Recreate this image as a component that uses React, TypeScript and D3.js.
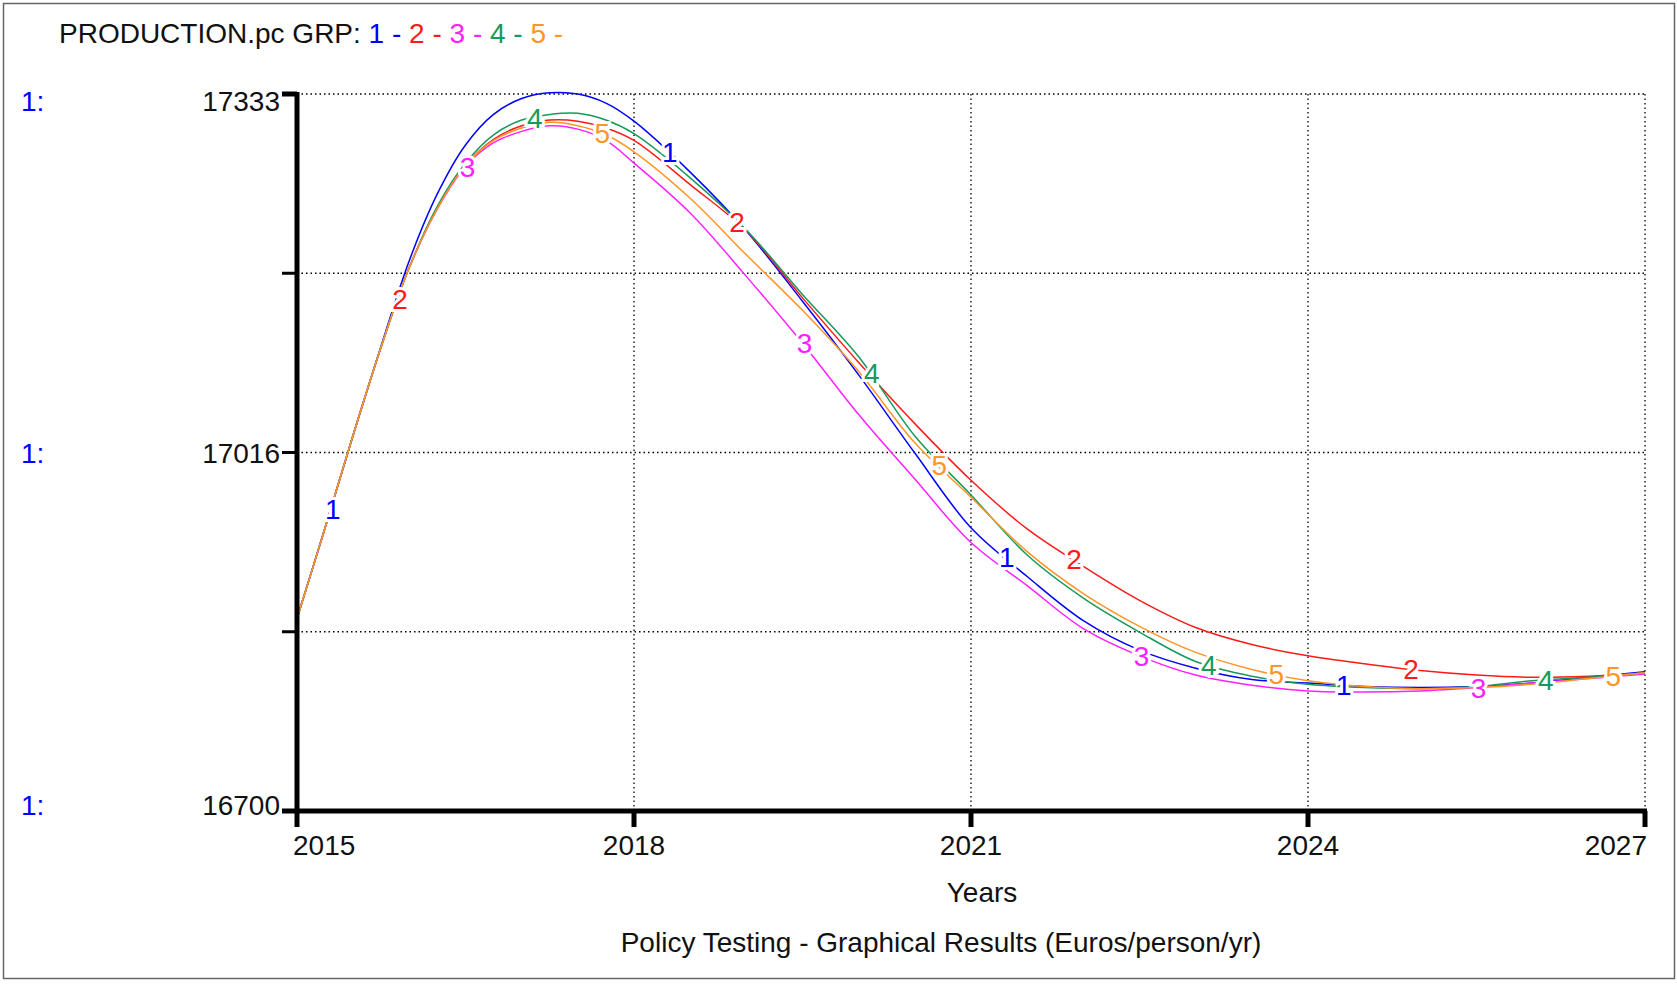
import React from 'react';
import * as d3 from 'd3';

// quarter years up to 2018, half years after
const years = [2015, 2015.25, 2015.5, 2015.75, 2016, 2016.25, 2016.5, 2016.75, 2017, 2017.25, 2017.5, 2017.75, 2018, 2018.5, 2019, 2019.5, 2020, 2020.5, 2021, 2021.5, 2022, 2022.5, 2023, 2023.5, 2024, 2024.5, 2025, 2025.5, 2026, 2026.5, 2027];

const run1 = [16870, 16950, 17032, 17111, 17186, 17245, 17288, 17315, 17329, 17334, 17333, 17325, 17309, 17264, 17212, 17150, 17085, 17016, 16950, 16907, 16868, 16842, 16826, 16816, 16813, 16810, 16809, 16810, 16813, 16818, 16823];
const run2 = [16870, 16950, 17032, 17110, 17180, 17232, 17270, 17293, 17305, 17310, 17309, 17303, 17292, 17253, 17212, 17153, 17096, 17042, 16992, 16949, 16916, 16886, 16862, 16847, 16837, 16830, 16824, 16820, 16818, 16819, 16822];
const run3 = [16870, 16950, 17032, 17110, 17180, 17232, 17269, 17290, 17300, 17305, 17302, 17292, 17272, 17228, 17172, 17113, 17050, 16993, 16937, 16899, 16861, 16837, 16820, 16811, 16806, 16805, 16806, 16809, 16813, 16817, 16821];
const run4 = [16870, 16950, 17032, 17110, 17180, 17234, 17272, 17297, 17310, 17315, 17316, 17310, 17298, 17259, 17213, 17156, 17101, 17031, 16979, 16926, 16888, 16858, 16832, 16819, 16812, 16809, 16808, 16810, 16815, 16818, 16822];
const run5 = [16870, 16950, 17032, 17110, 17180, 17232, 17270, 17292, 17303, 17308, 17305, 17297, 17282, 17241, 17191, 17142, 17088, 17025, 16977, 16929, 16892, 16863, 16840, 16825, 16815, 16810, 16808, 16809, 16812, 16817, 16822];

const runNames = ['1', '2', '3', '4', '5'];
const runColors = ['#0000ff', '#ff1a1a', '#ff20ff', '#169a5a', '#ff9526'];
const runs = [run1, run2, run3, run4, run5];
const labelYears = [
  [2015.3, 2018.3, 2021.3, 2024.3],
  [2015.9, 2018.9, 2021.9, 2024.9],
  [2016.5, 2019.5, 2022.5, 2025.5],
  [2017.1, 2020.1, 2023.1, 2026.1],
  [2017.7, 2020.7, 2023.7, 2026.7],
];

const yTicks = [16700, 16858.25, 17016.5, 17174.75, 17333];
const yTickLabels = ['16700', '', '17016', '', '17333'];
const xTicks = [2015, 2018, 2021, 2024, 2027];

const W = 1677;
const H = 984;
const FONT = 'Arial, "Liberation Sans", sans-serif';

const x = d3.scaleLinear().domain([2015, 2027]).range([297, 1645]);
const y = d3.scaleLinear().domain([16700, 17333]).range([811, 94]);

const line = d3
  .line<number>()
  .x((_, i) => x(years[i]))
  .y(d => y(d))
  .curve(d3.curveCatmullRom.alpha(0.5));

function valueAt(vals: number[], yr: number) {
  const i = Math.min(d3.bisectRight(years, yr), years.length - 1);
  const t = (yr - years[i - 1]) / (years[i] - years[i - 1]);
  return vals[i - 1] + t * (vals[i] - vals[i - 1]);
}

export default function App() {
  const [y0, y1] = y.range();
  const [x0, x1] = x.range();

  return (
    <svg width={W} height={H} style={{ position: 'absolute', left: 0, top: 0, background: '#fff' }} fontFamily={FONT}>
      <rect x={3.5} y={3.5} width={1671} height={975} fill="#fff" stroke="#666" strokeWidth={1.5} />

      {/* title */}
      <text x={59} y={43} fontSize={28} fill="#111">
        <tspan>PRODUCTION.pc GRP: </tspan>
        {runNames.map((n, i) => (
          <tspan key={n} fill={runColors[i]}>{n} - </tspan>
        ))}
      </text>

      {/* grid */}
      {yTicks.slice(1).map(t => (
        <line key={'gy' + t} x1={x0} x2={x1} y1={y(t)} y2={y(t)} stroke="#000" strokeWidth={1.3} strokeDasharray="1.5,3" />
      ))}
      {xTicks.slice(1).map(t => (
        <line key={'gx' + t} x1={x(t)} x2={x(t)} y1={y1} y2={y0} stroke="#000" strokeWidth={1.3} strokeDasharray="1.5,3" />
      ))}

      {/* series */}
      {runs.map((r, i) => (
        <path key={'p' + i} d={line(r) || ''} fill="none" stroke={runColors[i]} strokeWidth={1.5} />
      ))}

      {/* on-line labels */}
      {runs.map((r, i) =>
        labelYears[i].map(yr => (
          <text
            key={'l' + i + yr}
            x={x(yr) + 2}
            y={y(valueAt(r, yr))}
            dy="0.36em"
            textAnchor="middle"
            fontSize={28}
            fill={runColors[i]}
            stroke="#fff"
            strokeWidth={6}
            paintOrder="stroke"
          >
            {runNames[i]}
          </text>
        ))
      )}

      {/* y axis */}
      <line x1={x0} x2={x0} y1={y1 - 2} y2={y0 + 2} stroke="#000" strokeWidth={5} />
      {yTicks.map((t, i) => (
        <line key={'ty' + t} x1={x0 - 15} x2={x0} y1={y(t)} y2={y(t)} stroke="#000" strokeWidth={i === 4 ? 5 : 3} />
      ))}
      {yTicks.map((t, i) =>
        yTickLabels[i] ? (
          <g key={'yl' + t}>
            <text x={280} y={y(t)} dy={i === 4 ? 17 : i === 2 ? 10 : 4} textAnchor="end" fontSize={28} fill="#111">
              {yTickLabels[i]}
            </text>
            <text x={21} y={y(t)} dy={i === 4 ? 17 : i === 2 ? 10 : 4} fontSize={28} fill="#0000ff">
              1:
            </text>
          </g>
        ) : null
      )}

      {/* x axis */}
      <line x1={x0 - 15} x2={x1 + 2} y1={y0} y2={y0} stroke="#000" strokeWidth={5} />
      {xTicks.map(t => (
        <line key={'tx' + t} x1={x(t)} x2={x(t)} y1={y0} y2={y0 + 16} stroke="#000" strokeWidth={5} />
      ))}
      {xTicks.map((t, i) => (
        <text
          key={'xl' + t}
          x={i === 0 ? x(t) - 4 : i === xTicks.length - 1 ? x(t) + 2 : x(t)}
          y={855}
          textAnchor={i === 0 ? 'start' : i === xTicks.length - 1 ? 'end' : 'middle'}
          fontSize={28}
          fill="#111"
        >
          {t}
        </text>
      ))}

      <text x={982} y={902} textAnchor="middle" fontSize={28} fill="#111">Years</text>
      <text x={941} y={952} textAnchor="middle" fontSize={28} fill="#111">
        Policy Testing - Graphical Results (Euros/person/yr)
      </text>
    </svg>
  );
}
